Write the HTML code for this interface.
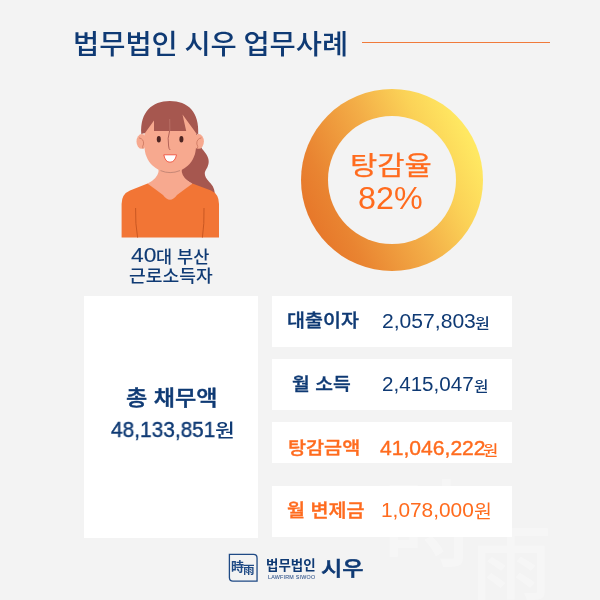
<!DOCTYPE html>
<html lang="ko">
<head>
<meta charset="utf-8">
<title>법무법인 시우 업무사례</title>
<style>
html,body{margin:0;padding:0;}
body{width:600px;height:600px;overflow:hidden;background:#f3f3f3;position:relative;
  font-family:"Liberation Sans","Noto Sans CJK KR",sans-serif;}
.abs{position:absolute;white-space:nowrap;line-height:1;transform-origin:0 0;will-change:transform;}
.kr{font-family:"Noto Sans CJK KR","Liberation Sans",sans-serif;}
.ls{font-family:"Liberation Sans",sans-serif;}
.navy{color:#0f3a74;}
.org{color:#ff6b1e;}
.box{position:absolute;background:#fff;}
.wm{color:rgba(255,255,255,0.3);}
#tline{position:absolute;left:362px;top:42px;width:188px;height:1px;background:#f07a3a;}
#ring{position:absolute;left:301px;top:89px;width:182px;height:182px;border-radius:50%;
  background:linear-gradient(64deg,#e46a23 0%,#e98431 24%,#f3ad47 50%,#fbd257 70%,#ffe862 86%,#ffee68 100%);}
#ring::after{content:"";position:absolute;left:27px;top:27px;width:128px;height:128px;border-radius:50%;background:#f3f3f3;}
</style>
</head>
<body>
<div class="abs kr navy" style="left:72.9px;top:28.7px;font-size:27.3px;font-weight:500;transform:scaleX(1.043);word-spacing:-1.3px;">법무법인 시우 업무사례</div>
<div id="tline"></div>
<svg id="person" class="abs" style="left:110px;top:90px;" width="120" height="160" viewBox="110 90 120 160">
  <!-- ponytail -->
  <path d="M193 128 C199 134 199 144 202.2 149 C205 152.5 209 156.5 208.7 162 C208.4 168 204.6 170 204.8 174 C205.2 179 210.5 182.5 212.6 186 C214 188.5 214.6 191 214.8 194 L196 187 L178 174 L186 146 Z" fill="#a6574f"/>
  <!-- neck -->
  <path d="M158.5 160 L181.8 160 L181.8 172 Q183 179 192.4 183.6 L170 203 L147.6 183.6 Q157 179 158.5 172 Z" fill="#f7a98f"/>
  <!-- shirt -->
  <path d="M147.6 183.6 L163 194.9 Q170 204.4 177 194.9 L192.4 183.6 L211 190.5 Q219 194 219 204 L219 237.6 L121.6 237.6 L121.6 204 Q121.6 194 130 190.5 Z" fill="#f27535"/>
  <path d="M135.6 208 Q135.2 224 137.6 237.6" stroke="#c4531f" stroke-width="0.9" fill="none"/>
  <path d="M204 208 Q204.4 224 202.4 237.6" stroke="#c4531f" stroke-width="0.9" fill="none"/>
  <!-- ears -->
  <ellipse cx="141.8" cy="141.4" rx="5.3" ry="7.4" fill="#f7a98f"/>
  <ellipse cx="198.6" cy="141.4" rx="5.3" ry="7.4" fill="#f7a98f"/>
  <path d="M139 137.8 Q144 139 143.6 144 Q142 146.5 143 148.5" stroke="#cf7a63" stroke-width="0.9" fill="none"/>
  <path d="M201.4 137.8 Q196.4 139 196.8 144 Q198.4 146.5 197.4 148.5" stroke="#cf7a63" stroke-width="0.9" fill="none"/>
  <!-- face -->
  <path d="M144.5 128 Q144.5 113 160 113 L181 113 Q196 113 196 128 L196 146 C196 162 184 172.4 170.2 172.4 C156.5 172.4 144.5 162 144.5 146 Z" fill="#f7a98f"/>
  <path d="M160.5 170.6 Q170 174.6 180 170.6" stroke="#b97f70" stroke-width="0.8" fill="none"/>
  <!-- hair -->
  <path d="M141.3 134 C140 112 152 101 169.8 101 C188 101 199.5 112 198.2 134.5 L196 133 L182.5 114.5 L186.2 131 L154 131 L154 120.5 L145 133 Z" fill="#a6574f"/>
  <path d="M169.7 119 L169.9 131" stroke="#c98478" stroke-width="0.5" fill="none"/>
  <!-- eyes -->
  <ellipse cx="158.8" cy="139.2" rx="2" ry="3.3" fill="#4d2522"/>
  <ellipse cx="181.4" cy="139.2" rx="2" ry="3.3" fill="#4d2522"/>
  <!-- nose -->
  <path d="M169.6 131 Q167.2 138 168.6 146 Q168.8 149 170.2 150" stroke="#a6574f" stroke-width="0.85" fill="none"/>
  <!-- mouth -->
  <path d="M163.8 154.8 L176.5 154.8 Q175 162.2 170 162.2 Q165.2 162.2 163.8 154.8 Z" fill="#fff" stroke="#f0503c" stroke-width="0.9" stroke-linejoin="round"/>
</svg>
<div class="abs ls navy" style="left:130.5px;top:245.8px;font-size:19.7px;font-weight:400;transform:scaleX(1.159);-webkit-text-stroke:0.1px #0f3a74;">40</div>
<div class="abs kr navy" style="left:156.3px;top:247.5px;font-size:16.5px;font-weight:500;transform:scaleX(1.062);">대 부산</div>
<div class="abs kr navy" style="left:128.9px;top:267.4px;font-size:16.96px;font-weight:500;transform:scaleX(1.073);">근로소득자</div>
<div id="ring"></div>
<div class="abs kr org" style="left:349.6px;top:151.4px;font-size:26.4px;font-weight:400;transform:scaleX(1.124);-webkit-text-stroke:0.25px #ff6b1e;">탕감율</div>
<div class="abs ls org" style="left:358.4px;top:182.7px;font-size:31.7px;font-weight:400;transform:scaleX(1.019);">82%</div>
<div class="abs kr wm" style="left:383px;top:470.5px;font-size:94px;font-weight:500;">時</div>
<div class="abs kr wm" style="left:470px;top:516.5px;font-size:82px;font-weight:500;">雨</div>
<div class="box" style="left:84px;top:296px;width:174px;height:241.5px;"></div>
<div class="box" style="left:272px;top:296px;width:240px;height:51px;"></div>
<div class="box" style="left:272px;top:359px;width:240px;height:51.4px;"></div>
<div class="box" style="left:272px;top:422.3px;width:240px;height:41px;"></div>
<div class="box" style="left:272px;top:485.8px;width:240px;height:51.7px;"></div>
<div class="abs kr navy" style="left:125.9px;top:385.9px;font-size:20.9px;font-weight:500;transform:scaleX(1.105);-webkit-text-stroke:0.45px;">총 채무액</div>
<div class="abs ls navy" style="left:110.9px;top:419.0px;font-size:21.55px;font-weight:400;transform:scaleX(0.968);-webkit-text-stroke:0.4px #0f3a74;">48,133,851</div>
<div class="abs kr navy" style="left:214.8px;top:419.9px;font-size:18.7px;font-weight:500;transform:scaleX(1.15);">원</div>
<div class="abs kr navy" style="left:286.7px;top:311.2px;font-size:17.74px;font-weight:500;transform:scaleX(1.101);-webkit-text-stroke:0.35px;">대출이자</div>
<div class="abs ls navy" style="left:381.5px;top:309.8px;font-size:21.1px;font-weight:400;transform:scaleX(1.0);">2,057,803</div>
<div class="abs kr navy" style="left:475.3px;top:314.6px;font-size:14px;font-weight:500;transform:scaleX(1.15);">원</div>
<div class="abs kr navy" style="left:291.8px;top:374.1px;font-size:17.5px;font-weight:500;transform:scaleX(1.105);-webkit-text-stroke:0.35px;">월 소득</div>
<div class="abs ls navy" style="left:382.4px;top:373.6px;font-size:20.3px;font-weight:400;transform:scaleX(1.016);">2,415,047</div>
<div class="abs kr navy" style="left:474px;top:378.2px;font-size:14px;font-weight:500;transform:scaleX(1.12);">원</div>
<div class="abs kr org" style="left:287.6px;top:437.9px;font-size:17.31px;font-weight:500;transform:scaleX(1.134);-webkit-text-stroke:0.35px;">탕감금액</div>
<div class="abs ls org" style="left:380.0px;top:437.9px;font-size:20.85px;font-weight:400;transform:scaleX(1.012);-webkit-text-stroke:0.4px #ff6b1e;">41,046,222</div>
<div class="abs kr org" style="left:482.8px;top:441.8px;font-size:14px;font-weight:500;transform:scaleX(1.18);">원</div>
<div class="abs kr org" style="left:287.1px;top:501px;font-size:17.9px;font-weight:500;transform:scaleX(1.095);-webkit-text-stroke:0.35px;">월 변제금</div>
<div class="abs ls org" style="left:380.9px;top:499.9px;font-size:20.56px;font-weight:400;transform:scaleX(1.015);">1,078,000</div>
<div class="abs kr org" style="left:473.6px;top:500.6px;font-size:17.98px;font-weight:400;transform:scaleX(1.083);">원</div>
<!-- logo -->
<svg class="abs" style="left:220px;top:545px;" width="50" height="45" viewBox="220 545 50 45"><path d="M229.4 554.35 L253.5 554.35 Q257.05 554.35 257.05 557.9 L257.05 581.05 L232.9 581.05 Q229.4 581.05 229.4 577.5 Z" fill="none" stroke="#1f4a85" stroke-width="1.3"/></svg>
<div class="abs kr" style="left:231.1px;top:559px;font-size:13px;font-weight:700;color:#1f4a85;">時</div>
<div class="abs kr" style="left:243.3px;top:564.4px;font-size:11.5px;font-weight:700;color:#1f4a85;">雨</div>
<div class="abs kr navy" style="left:266.2px;top:558.0px;font-size:13.33px;font-weight:700;transform:scaleX(1.013);">법무법인</div>
<div class="abs ls" style="left:267.6px;top:574.5px;font-size:5.35px;font-weight:400;letter-spacing:0.23px;color:#34578d;-webkit-text-stroke:0.08px;">LAWFIRM SIWOO</div>
<div class="abs kr navy" style="left:321.3px;top:556.5px;font-size:20.33px;font-weight:500;transform:scaleX(1.139);-webkit-text-stroke:0.5px;">시우</div>
</body>
</html>
